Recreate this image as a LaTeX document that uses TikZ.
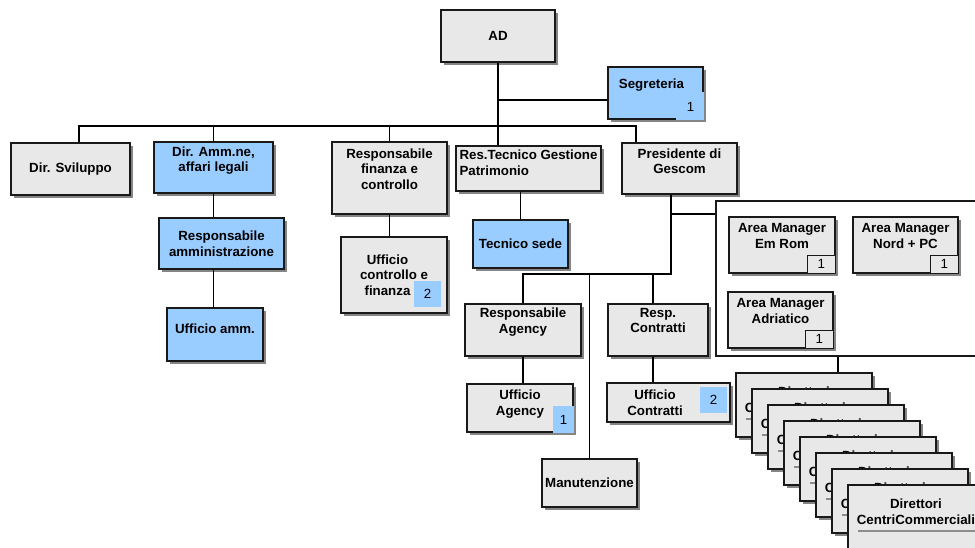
\documentclass[tikz,border=0pt]{standalone}
\usepackage{fontspec}
\setmainfont{Liberation Sans}
\usetikzlibrary{shadows}
\definecolor{boxgray}{HTML}{E8E8E8}
\definecolor{boxblue}{HTML}{99CCFF}
\definecolor{shadegray}{HTML}{858585}
\tikzset{
    base/.style={draw=black!90, line width=1.3pt, align=center, inner sep=2pt, font=\fontsize{13.3}{15.5}\selectfont\bfseries, drop shadow={shadow xshift=3pt, shadow yshift=-3pt, fill=shadegray, opacity=1}},
    graybox/.style={base, rectangle, fill=boxgray},
    bluebox/.style={base, rectangle, fill=boxblue},
    dirbox/.style={graybox, minimum width=136, minimum height=64, text depth=10.8pt, path picture={\draw [black!45, line width=1.5pt] ([xshift=10pt, yshift=-14pt]path picture bounding box.west) -- ([xshift=-4pt, yshift=-14pt]path picture bounding box.east);}},
    areaframe/.style={draw=black!90, line width=1.3pt, fill=white, rectangle},
    numtag/.style={fill=boxblue, inner sep=0pt, font=\fontsize{13.3}{15.5}\selectfont},
    amtag/.style={draw=black!90, line width=0.8pt, fill=boxgray, inner sep=0pt, minimum width=28, minimum height=18, anchor=south east, font=\fontsize{13.3}{15.5}\selectfont},
    textup/.style={text depth=#1},
    link/.style={line width=1.3pt, draw=black}
}
\begin{document}
\begin{tikzpicture}[x=1pt, y=-1pt]
    \useasboundingbox (0,0) rectangle (975,547);

    \node (ad) [graybox, minimum width=114, minimum height=52] at (498,36) {AD};
    \node (segr) [bluebox, minimum width=95, minimum height=52, textup=18.8pt] at (655.5,93) {Segreteria\hspace*{8pt}};
    \node (segrnum) [numtag, minimum width=28, minimum height=28, anchor=south east] at ([xshift=1, yshift=-1]segr.south east) {1};

    \node (svil) [graybox, minimum width=119, minimum height=52] at (70.5,169) {Dir. Sviluppo};
    \node (diramm) [bluebox, minimum width=119, minimum height=51, textup=16.8pt] at (213.5,167.5) {Dir. Amm.ne,\\affari legali};
    \node (respamm) [bluebox, minimum width=125, minimum height=51] at (221.5,243.5) {Responsabile\\amministrazione};
    \node (uffamm) [bluebox, minimum width=96, minimum height=53, textup=10.8pt] at (215,334.5) {Ufficio amm.};

    \node (fin) [graybox, minimum width=115, minimum height=72, textup=17.8pt] at (389.5,178) {Responsabile\\finanza e\\controllo};
    \node (uffcon) [graybox, minimum width=106, minimum height=76] at (394,275) {Ufficio\hspace*{13pt}\\controllo e\hspace*{13pt}\\finanza\hspace*{13pt}};
    \node (uffconnum) [numtag, minimum width=27, minimum height=26] at (427.5,294) {2};

    \node (restec) [graybox, align=left, minimum width=145, minimum height=45, textup=11.8pt] at (528.5,168.5) {Res.Tecnico Gestione\\Patrimonio};
    \node (tecsede) [bluebox, minimum width=95, minimum height=48] at (520.5,244) {Tecnico sede};

    \node (pres) [graybox, minimum width=115, minimum height=51, textup=14.8pt] at (679.5,168.5) {Presidente di\\Gescom};

    \node (area) [areaframe, minimum width=274, minimum height=155] at (853,278.5) {};
    \node (amrom) [graybox, minimum width=106, minimum height=56, textup=17.8pt] at (782,245) {Area Manager\\Em Rom};
    \node (amromnum) [amtag] at (amrom.south east) {1};
    \node (amnord) [graybox, minimum width=105, minimum height=56, textup=17.8pt] at (905.5,245) {Area Manager\\Nord + PC};
    \node (amnordnum) [amtag] at (amnord.south east) {1};
    \node (amadr) [graybox, minimum width=105, minimum height=56, textup=17.8pt] at (780.5,320) {Area Manager\\Adriatico};
    \node (amadrnum) [amtag] at (amadr.south east) {1};

    \node (agency) [graybox, minimum width=116, minimum height=52, textup=18.8pt] at (523,330) {Responsabile\\Agency};
    \node (uffag) [graybox, minimum width=106, minimum height=48, textup=10.8pt] at (520,408) {Ufficio\\Agency};
    \node (uffagnum) [numtag, minimum width=21, minimum height=27, anchor=south east] at ([xshift=0.7, yshift=-0.7]uffag.south east) {1};

    \node (contr) [graybox, minimum width=100, minimum height=52, textup=18.8pt] at (658,330) {Resp.\\Contratti};
    \node (uffcontr) [graybox, minimum width=123, minimum height=39] at (668.5,402.5) {Ufficio\hspace*{27pt}\\Contratti\hspace*{27pt}};
    \node (uffcontrnum) [numtag, minimum width=27, minimum height=26] at (713.5,400) {2};

    \node (manut) [graybox, minimum width=95, minimum height=48] at (589.5,483) {Manutenzione};

    \foreach \k in {1,...,8}
        \node (dir\k) [dirbox] at ({788+16*\k},{389+16*\k}) {Direttori\\CentriCommerciali};

    \coordinate (bar) at (300,126);
    \coordinate (split) at (600,274);

    \draw [link] (ad.south) -- (ad.south |- restec.north);
    \draw [link] ([yshift=-7]segr.west) -- ([yshift=-7]segr.west -| ad.south);
    \draw [link] ([xshift=8.5]svil.north) |- (bar) -| ([xshift=-43.5]pres.north);
    \draw [link] (diramm.north) -- (diramm.north |- bar);
    \draw [link] (fin.north) -- (fin.north |- bar);
    \draw [link] (diramm.south) -- (diramm.south |- respamm.north);
    \draw [link] (diramm.south |- respamm.south) -- (diramm.south |- uffamm.north);
    \draw [link] (fin.south) -- (fin.south |- uffcon.north);
    \draw [link] (tecsede.north |- restec.south) -- (tecsede.north);
    \draw [link] ([xshift=-8.5]pres.south) |- (split -| agency.north) -- (agency.north);
    \draw [link] ([yshift=64.5]area.west) -| ([xshift=-8.5]pres.south);
    \draw [link] (manut.north) -- (manut.north |- split);
    \draw [link] ([xshift=-5]contr.north) -- ([xshift=-5]contr.north |- split);
    \draw [link] ([xshift=-5]contr.south) -- ([xshift=-5]contr.south |- uffcontr.north);
    \draw [link] (agency.south) -- (agency.south |- uffag.north);
    \draw [link] ([xshift=34]dir1.north) -- ([xshift=34]dir1.north |- area.south);
\end{tikzpicture}
\end{document}
